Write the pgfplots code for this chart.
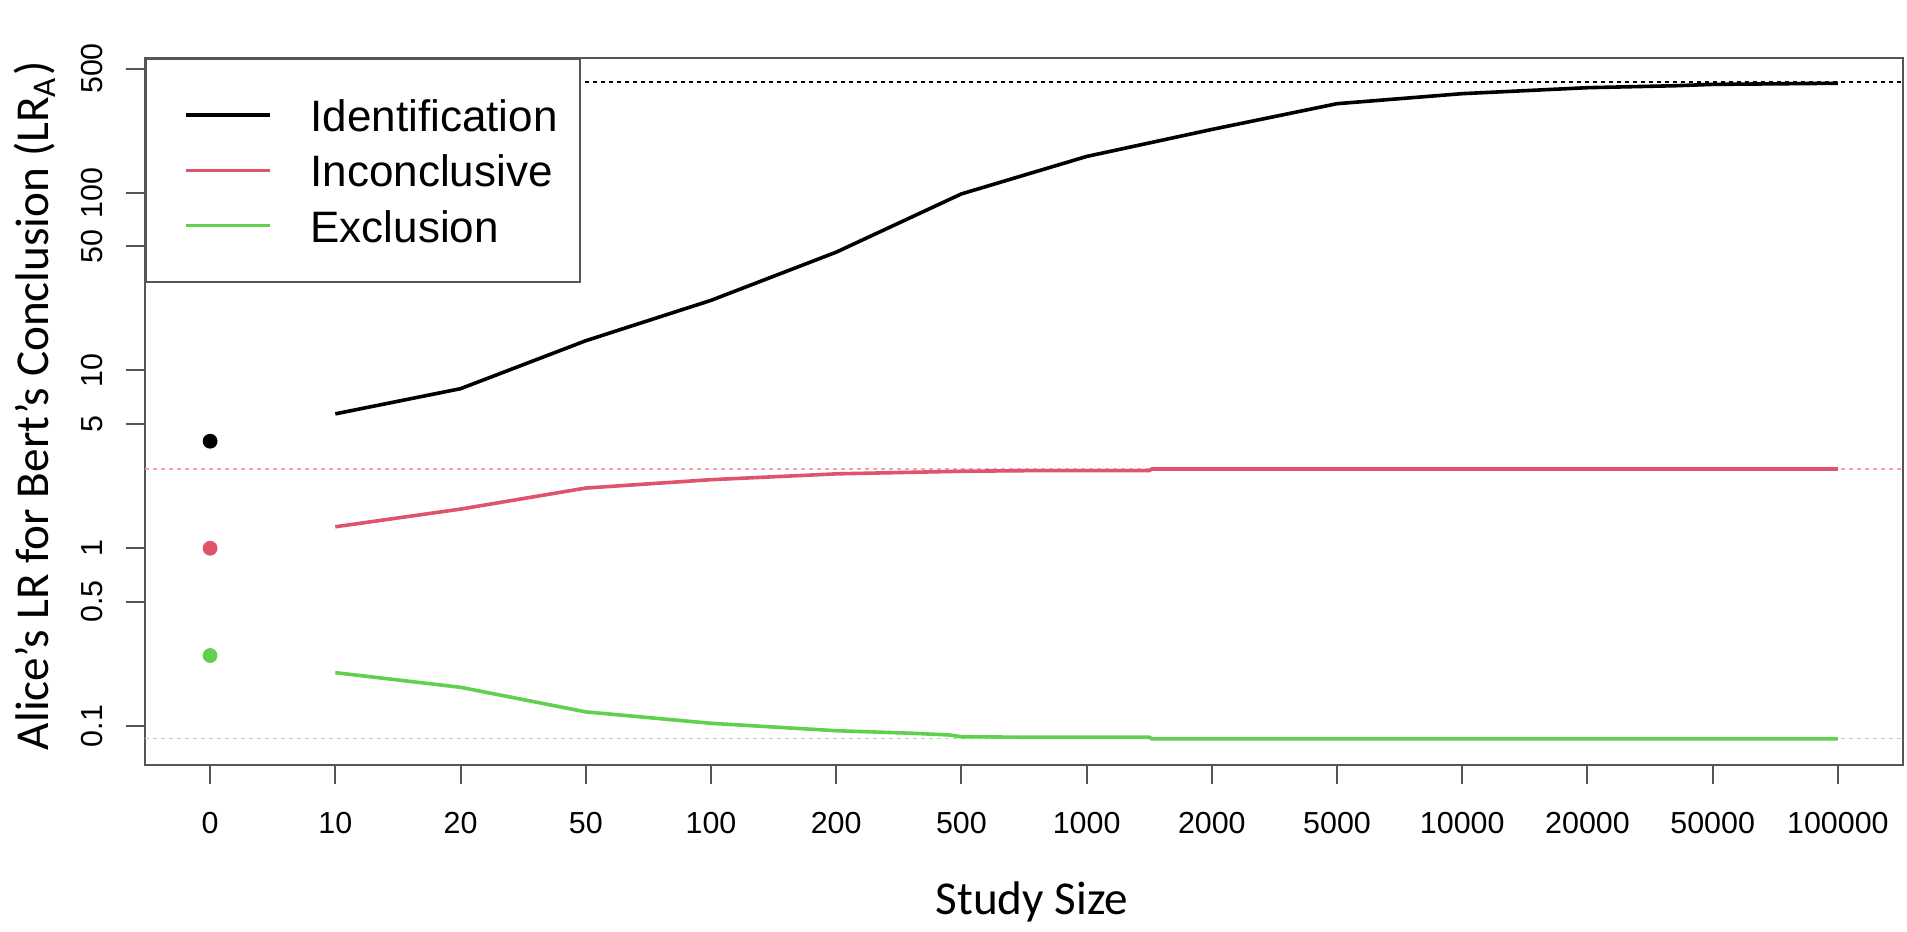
\documentclass[border=0pt]{standalone}
\usepackage{pgfplots}
\pgfplotsset{compat=1.18}
\usepackage{fontspec}
\setmainfont{Liberation Sans}
\newfontfamily\calibri{Carlito}
\definecolor{rred}{HTML}{DF536B}
\definecolor{rgreen}{HTML}{61D04F}
\definecolor{axgray}{HTML}{555555}
\definecolor{redlight}{HTML}{F0A3B1}
\definecolor{greenlight}{HTML}{A6E39C}
\newcommand{\legtext}[1]{\raisebox{-0.9pt}[8pt][0pt]{#1}}
\begin{document}
\begin{tikzpicture}
\begin{axis}[
  scale only axis, width=439.5pt, height=176.75pt,
  ymode=log, log basis y=10,
  xmin=-0.52, xmax=13.52, ymin=0.0603, ymax=573,
  axis line style={axgray, line width=0.5pt},
  tick style={axgray, line width=0.5pt},
  major tick length=4.75pt, tick align=outside,
  xtick pos=bottom, ytick pos=left,
  xtick={0,1,2,3,4,5,6,7,8,9,10,11,12,13},
  xticklabels={0,10,20,50,100,200,500,1000,2000,5000,10000,20000,50000,100000},
  ytick={0.1,0.5,1,5,10,50,100,500},
  yticklabels={0.1,0.5,1,5,10,50,100,500},
  yminorticks=false, xminorticks=false,
  ticklabel style={font=\fontsize{7.6}{9}\selectfont, inner sep=0pt},
  xticklabel style={anchor=north},
  yticklabel style={rotate=90, anchor=south},
  xticklabel shift=6.75pt, yticklabel shift=5.65pt,
  every axis x label/.style={at={(rel axis cs:0.5046,-0.2108)}, anchor=base, inner sep=0pt, font=\calibri\fontsize{11.8}{14}\selectfont},
  every axis y label/.style={at={(rel axis cs:-0.055,0.508)}, rotate=90, anchor=base, inner sep=0pt, font=\calibri\fontsize{11.8}{14}\selectfont},
  xlabel={Study Size},
  ylabel={Alice’s LR for Bert’s Conclusion (LR\textsubscript{A})},
  legend style={at={(0,1)}, anchor=north west, draw=axgray, line width=0.5pt, fill=white,
    inner xsep=5.7pt, inner ysep=9.3pt, row sep=4.3pt, column sep=9.75pt,
    font=\fontsize{11}{13}\selectfont, nodes={inner sep=0pt}, cells={anchor=west}},
  legend cell align=left,
  legend image code/.code={\path (0pt,0pt) (0pt,1.8pt); \draw[#1, line width=0.9pt] (3.9pt,0pt) -- (24.8pt,0pt);},
]
% reference (asymptote) lines
\addplot[black, line width=0.35pt, dash pattern=on 1pt off 1pt, forget plot] coordinates {(-0.52,420) (13.52,420)};
\addplot[redlight, line width=0.35pt, dash pattern=on 1pt off 1pt, forget plot] coordinates {(-0.52,2.79) (13.52,2.79)};
\addplot[greenlight, line width=0.35pt, dash pattern=on 1pt off 1pt, forget plot] coordinates {(-0.52,0.0849) (13.52,0.0849)};
% curves
\addplot[black, line width=0.9pt] coordinates {
(1,5.70) (2,7.9) (3,14.7) (4,24.8) (5,46.3) (6,98.5) (7,160) (8,227) (9,317) (10,361) (11,390) (11.7,400) (12,407) (12.5,410) (13,413)};
\addlegendentry{\legtext{Identification}}
\addplot[rred, line width=0.9pt] coordinates {
(1,1.32) (2,1.66) (3,2.18) (4,2.43) (5,2.62) (6,2.71) (6.5,2.73) (7.5,2.73) (7.52,2.79) (13,2.79)};
\addlegendentry{\legtext{Inconclusive}}
\addplot[rgreen, line width=0.9pt] coordinates {
(1,0.1995) (2,0.165) (3,0.120) (4,0.1035) (5,0.094) (5.6,0.091) (5.9,0.089) (6,0.087) (6.5,0.0864) (7.5,0.0864) (7.52,0.0846) (13,0.0846)};
\addlegendentry{\legtext{Exclusion}}
% study size 0 points
\addplot[only marks, mark=*, mark size=1.65pt, black, forget plot] coordinates {(0,4.0)};
\addplot[only marks, mark=*, mark size=1.65pt, rred, forget plot] coordinates {(0,1.0)};
\addplot[only marks, mark=*, mark size=1.65pt, rgreen, forget plot] coordinates {(0,0.249)};
\end{axis}
\pgfresetboundingbox
\path[use as bounding box] ([shift={(-36.25pt,-41.75pt)}]current axis.south west) rectangle ([shift={(1pt,14.5pt)}]current axis.north east);
\end{tikzpicture}
\end{document}
